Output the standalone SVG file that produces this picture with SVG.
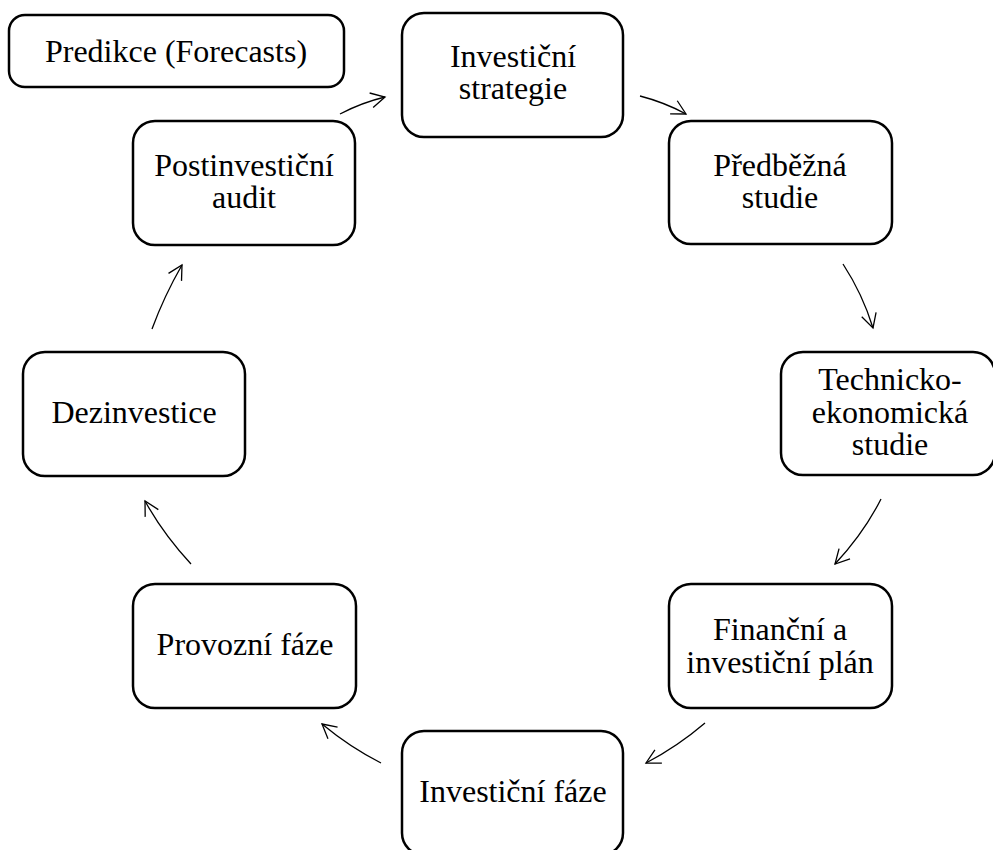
<svg xmlns="http://www.w3.org/2000/svg" width="993" height="850" viewBox="0 0 993 850">
<style>
.box{fill:#fff;stroke:#000;stroke-width:2.5}
.conn{fill:none;stroke:#000;stroke-width:1.3;marker-end:url(#arr)}
</style>
<defs>
<marker id="arr" markerUnits="userSpaceOnUse" markerWidth="20" markerHeight="20" viewBox="-16 -10 20 20" refX="0" refY="0" orient="auto">
<path d="M -14 -7.5 L 0 0 L -14 7.5" fill="none" stroke="#000" stroke-width="1.3"/>
</marker>
</defs>
<rect width="993" height="850" fill="#fff"/>
<g font-family="'Liberation Serif', 'DejaVu Serif', serif" font-size="32" text-anchor="middle" fill="#000">
<g id="predikce"><rect class="box" x="9" y="15" width="335" height="72" rx="16"/><text x="176" y="62">Predikce (Forecasts)</text></g>
<g id="investicni-strategie"><rect class="box" x="402" y="13" width="221" height="124" rx="22"/><text x="513" y="67">Investiční</text><text x="513" y="99">strategie</text></g>
<g id="predbezna-studie"><rect class="box" x="669" y="121" width="223" height="123" rx="22"/><text x="780" y="176">Předběžná</text><text x="780" y="208">studie</text></g>
<g id="technicko-ekonomicka-studie"><rect class="box" x="781" y="352" width="214" height="123" rx="22"/><text x="890" y="390">Technicko-</text><text x="890" y="423">ekonomická</text><text x="890" y="455">studie</text></g>
<g id="financni-plan"><rect class="box" x="669" y="584" width="223" height="124" rx="22"/><text x="780" y="640">Finanční a</text><text x="780" y="673">investiční plán</text></g>
<g id="investicni-faze"><rect class="box" x="402" y="731" width="221" height="124" rx="22"/><text x="513" y="802">Investiční fáze</text></g>
<g id="provozni-faze"><rect class="box" x="133" y="584" width="223" height="124" rx="22"/><text x="245" y="655">Provozní fáze</text></g>
<g id="dezinvestice"><rect class="box" x="23" y="352" width="222" height="124" rx="22"/><text x="134" y="423">Dezinvestice</text></g>
<g id="postinvesticni-audit"><rect class="box" x="133" y="121" width="222" height="124" rx="22"/><text x="244" y="176">Postinvestiční</text><text x="244" y="208">audit</text></g>
</g>
<g id="connectors">
<path class="conn" d="M340 114 Q361.4 102.7 385 97"/>
<path class="conn" d="M640 96 Q664.4 102.3 686 114"/>
<path class="conn" d="M843 264 Q862.7 294.3 873 328"/>
<path class="conn" d="M881 499 Q863.8 533.1 835 564"/>
<path class="conn" d="M705 723 Q677.5 746.5 646 763"/>
<path class="conn" d="M381 763 Q349.8 747.1 322 724"/>
<path class="conn" d="M191 564 Q163.2 534 145 501"/>
<path class="conn" d="M152 329 Q164.2 295.9 182 265"/>
</g>
</svg>
